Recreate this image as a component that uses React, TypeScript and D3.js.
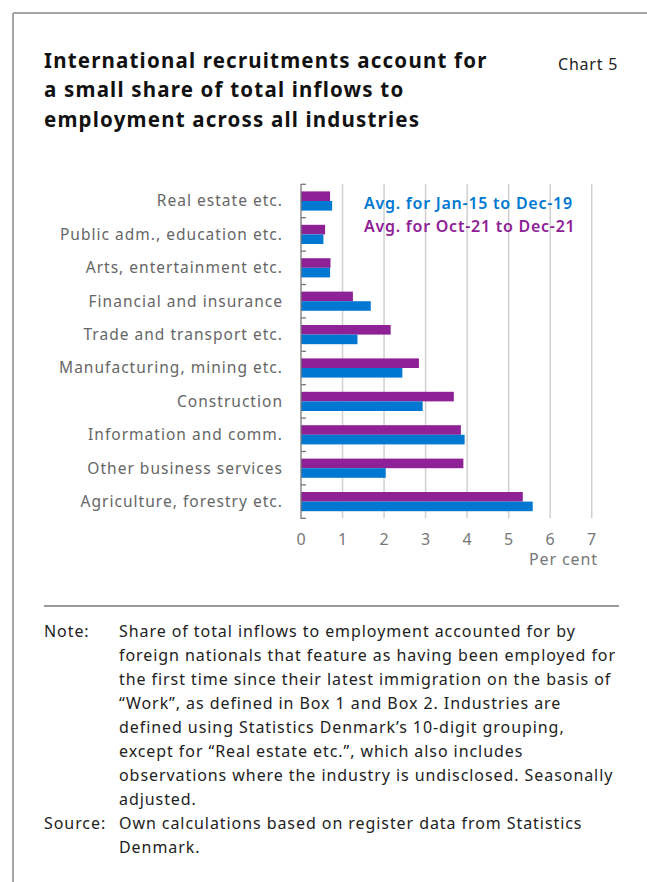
import React from "react";
import * as d3 from "d3";

const categories = [
  "Real estate etc.",
  "Public adm., education etc.",
  "Arts, entertainment etc.",
  "Financial and insurance",
  "Trade and transport etc.",
  "Manufacturing, mining etc.",
  "Construction",
  "Information and comm.",
  "Other business services",
  "Agriculture, forestry etc.",
];
const avgOct21Dec21 = [0.7, 0.58, 0.71, 1.25, 2.16, 2.84, 3.68, 3.85, 3.91, 5.34];
const avgJan15Dec19 = [0.75, 0.54, 0.7, 1.68, 1.36, 2.44, 2.93, 3.94, 2.04, 5.58];
const xTicks = [0, 1, 2, 3, 4, 5, 6, 7];
const seriesNames = ["Avg. for Jan-15 to Dec-19", "Avg. for Oct-21 to Dec-21"];
const titleLines = [
  "International recruitments account for",
  "a small share of total inflows to",
  "employment across all industries",
];
const noteLines = [
  "Share of total inflows to employment accounted for by",
  "foreign nationals that feature as having been employed for",
  "the first time since their latest immigration on the basis of",
  "\u201cWork\u201d, as defined in Box 1 and Box 2. Industries are",
  "defined using Statistics Denmark\u2019s 10-digit grouping,",
  "except for \u201cReal estate etc.\u201d, which also includes",
  "observations where the industry is undisclosed. Seasonally",
  "adjusted.",
];
const sourceLines = [
  "Own calculations based on register data from Statistics",
  "Denmark.",
];

const BLUE = "#0078d2";
const PURPLE = "#8f2196";
const FONT = "'Noto Sans', sans-serif";

export default function App() {
  const W = 647;
  const H = 882;
  const x = d3.scaleLinear().domain([0, 7]).range([301, 591.7]);
  const y = d3.scaleBand().domain(categories).range([184.3, 518.3]).paddingInner(0).paddingOuter(0);
  const inner = d3.scaleBand().domain(["oct", "jan"]).range([0, y.bandwidth()]).paddingOuter(0.74).paddingInner(0);
  const boundaries = d3.range(categories.length + 1).map((i) => 184.3 + i * y.step());

  return (
    <svg width={W} height={H} style={{ position: "absolute", left: 0, top: 0 }} fontFamily={FONT}>
      <rect width={W} height={H} fill="#fff" />
      {/* frame */}
      <line x1={13} y1={13} x2={W} y2={13} stroke="#a6a6a6" strokeWidth={2} />
      <line x1={13} y1={13} x2={13} y2={H} stroke="#a6a6a6" strokeWidth={2} />

      {/* title */}
      {titleLines.map((t, i) => (
        <text key={i} x={44} y={67.7 + i * 29.6} fontSize={20.5} fontWeight={700} fill="#111" letterSpacing={1.19}>
          {t}
        </text>
      ))}
      <text x={558} y={70} fontSize={16} fill="#222" letterSpacing={0.77}>Chart 5</text>

      {/* grid */}
      {xTicks.filter((t) => t > 0).map((t) => (
        <line key={t} x1={x(t)} x2={x(t)} y1={184} y2={518.3} stroke="#d0d0d0" strokeWidth={1.5} />
      ))}

      {/* bars */}
      {categories.map((c, i) => (
        <g key={c}>
          <rect
            x={x(0)}
            y={(y(c) as number) + (inner("oct") as number)}
            width={x(avgOct21Dec21[i]) - x(0)}
            height={inner.bandwidth()}
            fill={PURPLE}
          />
          <rect
            x={x(0)}
            y={(y(c) as number) + (inner("jan") as number)}
            width={x(avgJan15Dec19[i]) - x(0)}
            height={inner.bandwidth()}
            fill={BLUE}
          />
        </g>
      ))}

      {/* y axis */}
      <line x1={x(0)} x2={x(0)} y1={184} y2={519} stroke="#777" strokeWidth={1.3} />
      {boundaries.map((b, i) => (
        <line key={i} x1={x(0)} x2={x(0) + 5} y1={b} y2={b} stroke="#777" strokeWidth={1.3} />
      ))}

      {/* category labels */}
      {categories.map((c) => (
        <text
          key={c}
          x={283}
          y={(y(c) as number) + y.bandwidth() / 2}
          dy="0.35em"
          textAnchor="end"
          fontSize={15.5}
          fill="#666"
          letterSpacing={1.02}
        >
          {c}
        </text>
      ))}

      {/* x tick labels */}
      {xTicks.map((t) => (
        <text key={t} x={x(t)} y={545} textAnchor="middle" fontSize={16} fill="#777">
          {t}
        </text>
      ))}
      <text x={598} y={565} textAnchor="end" fontSize={16} fill="#777" letterSpacing={0.9}>Per cent</text>

      {/* legend */}
      <text x={364} y={209} fontSize={16} fontWeight={600} fill={BLUE} letterSpacing={0.75}>{seriesNames[0]}</text>
      <text x={364} y={232} fontSize={16} fontWeight={600} fill={PURPLE} letterSpacing={0.75}>{seriesNames[1]}</text>

      {/* separator */}
      <line x1={44} x2={619} y1={606} y2={606} stroke="#999" strokeWidth={2} />

      {/* note */}
      <g fontSize={16} fill="#222" letterSpacing={0.93}>
        <text x={44} y={637}>Note:</text>
        {noteLines.map((t, i) => (
          <text key={i} x={119} y={637 + i * 24}>{t}</text>
        ))}
        <text x={44} y={637 + noteLines.length * 24}>Source:</text>
        {sourceLines.map((t, i) => (
          <text key={i} x={119} y={637 + (noteLines.length + i) * 24}>{t}</text>
        ))}
      </g>
    </svg>
  );
}
